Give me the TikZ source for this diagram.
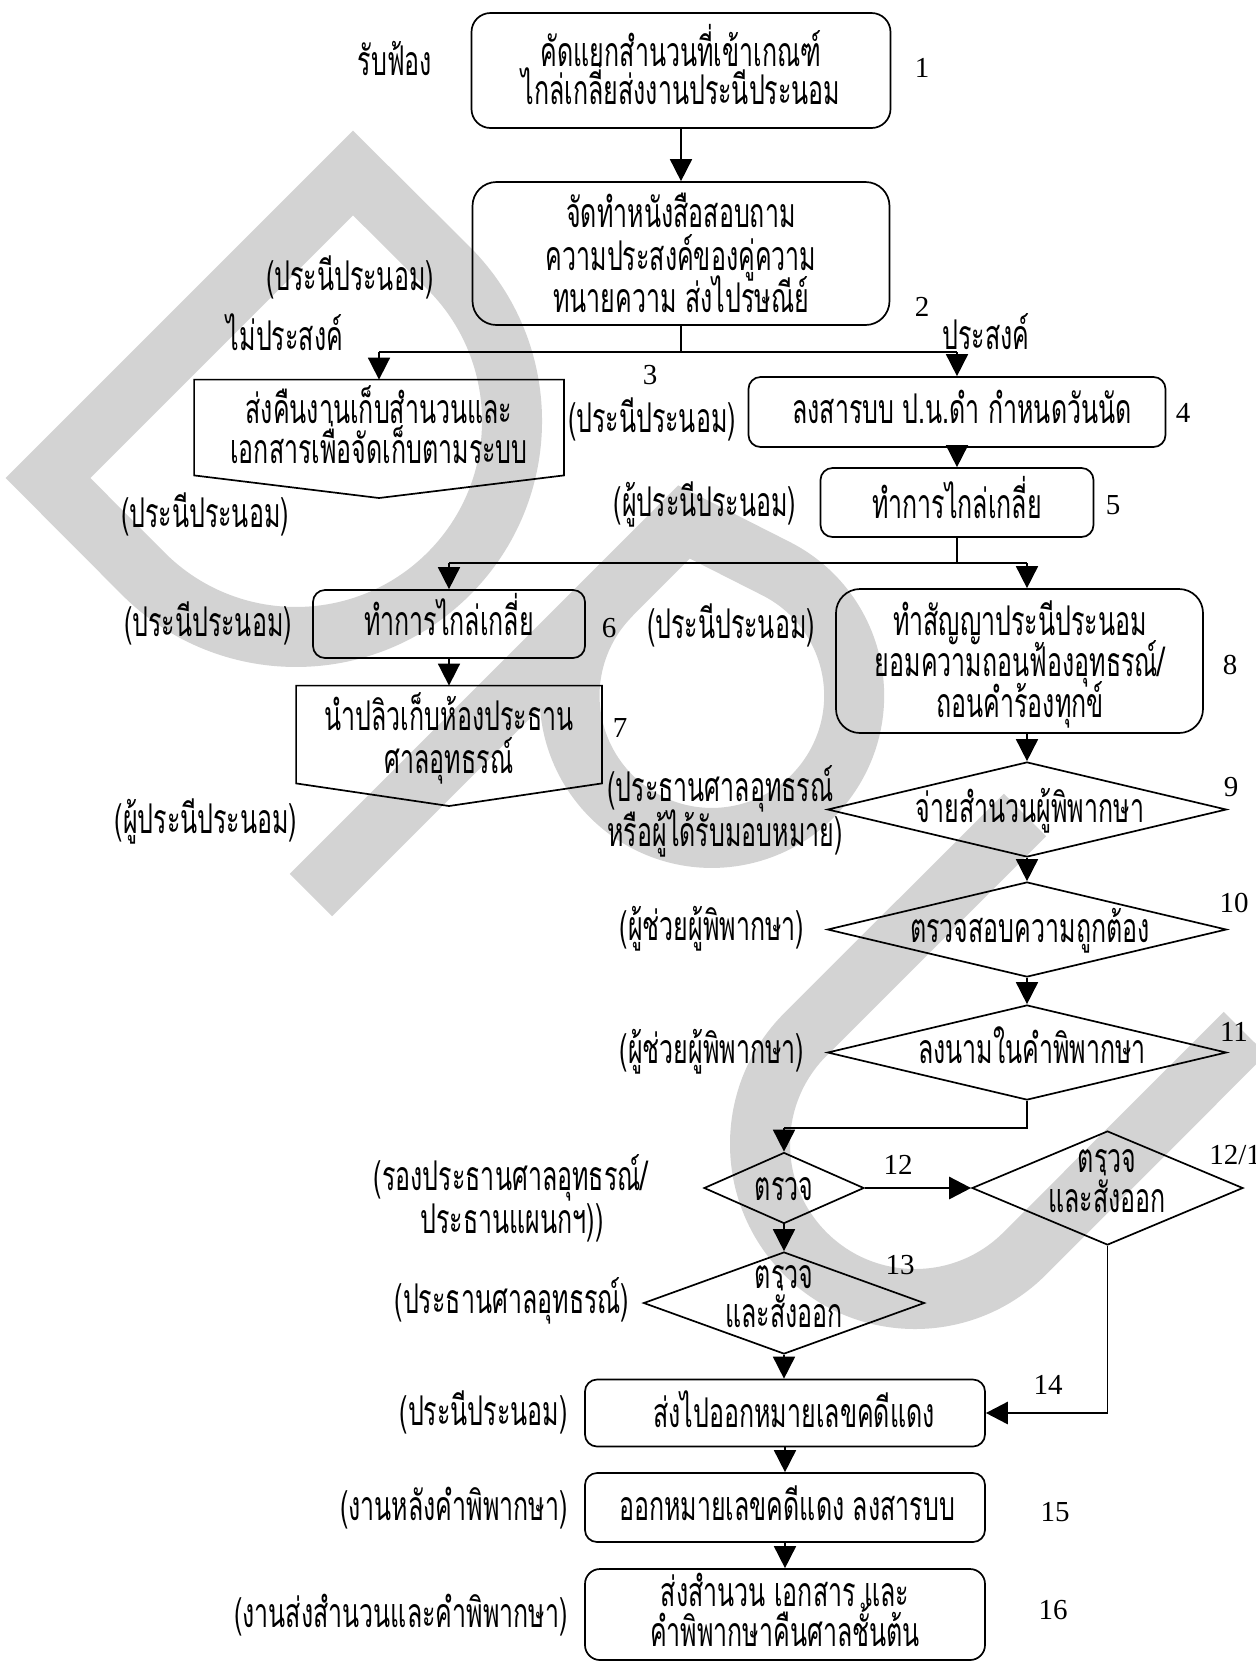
\documentclass[tikz,border=0pt]{standalone}
\usepackage{fontspec}
\setmainfont{Liberation Serif}
\newfontfamily\thaifont[Script=Thai,FakeStretch=0.61]{Loma}
\usetikzlibrary{arrows.meta,shapes.geometric}
\definecolor{wmgray}{RGB}{211,211,211}
\begin{document}
\begin{tikzpicture}[x=0.5pt,y=-0.5pt,
  tx/.style={font=\thaifont\fontsize{20.5}{22}\selectfont, inner sep=0pt, anchor=base},
  num/.style={font=\fontsize{14.5}{16}\selectfont, inner sep=0pt, anchor=base},
  box/.style={draw, line width=0.85pt, inner sep=0pt},
  dia/.style={draw, diamond, line width=0.85pt, inner sep=0pt},
  arr/.style={-{Triangle[length=11pt,width=11pt]}, line width=0.85pt},
  tarr/.style={-{Triangle[length=11pt,width=11pt]}, line width=1.4pt},
  ln/.style={line width=0.85pt},
  wm/.style={draw=wmgray, line width=30pt, line join=miter}]
\fill[white] (0,0) rectangle (1256,1662);
\useasboundingbox (0,0) rectangle (1256,1662);
% watermark (D, P, U)
\draw[wm] (353,173) -- (48,478) -- (143.3,573.7) arc[start angle=135, end angle=-45, radius=216] -- cycle;
\draw[wm] (311,895) -- (684,522) -- (776,568.6) arc[start angle=-63.2, end angle=225.1, radius=142.3];
\draw[wm] (1025,815) -- (805.4,1034.4) arc[start angle=225, end angle=45, radius=155] -- (1245,1033);
% boxes
\node[box, rounded corners=9.5pt, minimum width=209.5pt, minimum height=57.5pt] (b1) at (681,70.5) {};
\node[box, rounded corners=12pt, minimum width=208.5pt, minimum height=71.5pt] (b2) at (681,253.5) {};
\node[inner sep=0pt, minimum width=184.5pt, minimum height=47.5pt] (b3) at (379,427.5) {};
\coordinate (b3p) at (379,498);
\draw[ln, line join=miter] (b3.south west) -- (b3.north west) -- (b3.north east) -- (b3.south east) -- (b3p) -- cycle;
\node[box, rounded corners=6pt, minimum width=208.5pt, minimum height=35pt] (b4) at (957,412) {};
\node[box, rounded corners=6pt, minimum width=136.5pt, minimum height=34.5pt] (b5) at (957,502.5) {};
\node[box, rounded corners=6pt, minimum width=136pt, minimum height=34pt] (b6) at (449,624) {};
\node[box, rounded corners=12pt, minimum width=183.5pt, minimum height=72pt] (b8) at (1019.5,661) {};
\node[inner sep=0pt, minimum width=152.5pt, minimum height=48.5pt] (b7) at (449,734.5) {};
\coordinate (b7p) at (449,806);
\draw[ln, line join=miter] (b7.south west) -- (b7.north west) -- (b7.north east) -- (b7.south east) -- (b7p) -- cycle;
\node[dia, minimum width=199.5pt, minimum height=47.5pt] (d9) at (1027,809.5) {};
\node[dia, minimum width=199.5pt, minimum height=47.5pt] (d10) at (1027,929.5) {};
\node[dia, minimum width=199.5pt, minimum height=47.5pt] (d11) at (1027,1052.5) {};
\node[dia, minimum width=80pt, minimum height=35.5pt] (d12) at (784,1188) {};
\node[dia, minimum width=135.5pt, minimum height=57pt] (d121) at (1107.5,1188) {};
\node[dia, minimum width=140.5pt, minimum height=51pt] (d13) at (784,1303) {};
\node[box, rounded corners=6pt, minimum width=200pt, minimum height=33.5pt] (b14) at (785,1413) {};
\node[box, rounded corners=6pt, minimum width=200pt, minimum height=34.5pt] (b15) at (785,1507.5) {};
\node[box, rounded corners=7.5pt, minimum width=200pt, minimum height=45.5pt] (b16) at (785,1614.5) {};
% connectors
\coordinate (s1) at (681,352);
\coordinate (s1l) at (379,352);
\coordinate (s1r) at (957,352);
\coordinate (s2) at (957,563);
\coordinate (s2l) at (449,563);
\coordinate (s2r) at (1027,563);
\coordinate (s3) at (1027,1128);
\coordinate (s3l) at (784,1128);
\coordinate (s4) at (1107.5,1413);
\draw[arr] (b1) -- (b2);
\draw[line width=0.6pt] (b2.south) -- (s1);
\draw[ln] (s1l) -- (s1r);
\draw[arr] (s1l) -- (b3.north);
\draw[arr] (s1r) -- (b4.north);
\draw[arr] (b4) -- (b5);
\draw[line width=0.6pt] (b5.south) -- (s2);
\draw[ln] (s2l) -- (s2r);
\draw[arr] (s2l) -- (b6.north);
\draw[arr] (s2r) -- (s2r |- b8.north);
\draw[arr] (b6.south) -- (b7.north);
\draw[arr] (d9.north |- b8.south) -- (d9.north);
\draw[arr] (d9.south) -- (d10.north);
\draw[arr] (d10.south) -- (d11.north);
\draw[ln] (d11.south) -- (s3) -- (s3l);
\draw[arr] (s3l) -- (d12.north);
\draw[tarr] (d12.east) -- (d121.west);
\draw[ln] (d121.south) -- (s4);
\draw[tarr] (s4) -- (b14.east);
\draw[arr] (d12.south) -- (d13.north);
\draw[arr] (d13.south) -- (d13.south |- b14.north);
\draw[arr] (b14) -- (b15);
\draw[arr] (b15) -- (b16);
% texts
\node[tx] (l1) at (395,75) {รับฟ้อง};
\node[tx] (b1a) at (681,66) {คัดแยกสำนวนที่เข้าเกณฑ์};
\node[tx] (b1b) at (681,104) {ไกล่เกลี่ยส่งงานประนีประนอม};
\node[num] (n1) at (922,77) {1};
\node[tx] (b2a) at (681,227) {จัดทำหนังสือสอบถาม};
\node[tx] (b2b) at (681,270) {ความประสงค์ของคู่ความ};
\node[tx] (b2c) at (681,312) {ทนายความ ส่งไปรษณีย์};
\node[num] (n2) at (922,316) {2};
\node[tx] (l2) at (350,290) {(ประนีประนอม)};
\node[tx] (l3) at (285,350) {ไม่ประสงค์};
\node[tx] (l4) at (986,349) {ประสงค์};
\node[num] (n3) at (650,384) {3};
\node[tx] (b3a) at (379,423) {ส่งคืนงานเก็บสำนวนและ};
\node[tx] (b3b) at (379,463) {เอกสารเพื่อจัดเก็บตามระบบ};
\node[tx] (l5) at (205,527) {(ประนีประนอม)};
\node[tx] (l6) at (652,432) {(ประนีประนอม)};
\node[tx] (b4a) at (962,423) {ลงสารบบ ป.น.ดำ กำหนดวันนัด};
\node[num] (n4) at (1183,422) {4};
\node[tx] (l7) at (705,516) {(ผู้ประนีประนอม)};
\node[tx] (b5a) at (957,518) {ทำการไกล่เกลี่ย};
\node[num] (n5) at (1113,514) {5};
\node[tx] (l8) at (208,636) {(ประนีประนอม)};
\node[tx] (b6a) at (449,635) {ทำการไกล่เกลี่ย};
\node[num] (n6) at (609,637) {6};
\node[tx] (l9) at (731,638) {(ประนีประนอม)};
\node[tx] (b8a) at (1020,635) {ทำสัญญาประนีประนอม};
\node[tx] (b8b) at (1020,676) {ยอมความถอนฟ้องอุทธรณ์/};
\node[tx] (b8c) at (1020,717) {ถอนคำร้องทุกข์};
\node[num] (n8) at (1230,674) {8};
\node[tx] (b7a) at (449,730) {นำปลิวเก็บห้องประธาน};
\node[tx] (b7b) at (449,773) {ศาลอุทธรณ์};
\node[num] (n7) at (620,737) {7};
\node[tx] (l10) at (206,833) {(ผู้ประนีประนอม)};
\node[tx, anchor=base west] (l11a) at (607,801) {(ประธานศาลอุทธรณ์};
\node[tx, anchor=base west] (l11b) at (607,846) {หรือผู้ได้รับมอบหมาย)};
\node[tx] (d9a) at (1030,822) {จ่ายสำนวนผู้พิพากษา};
\node[num] (n9) at (1231,796) {9};
\node[tx] (l12) at (712,940) {(ผู้ช่วยผู้พิพากษา)};
\node[tx] (d10a) at (1030,942) {ตรวจสอบความถูกต้อง};
\node[num] (n10) at (1234,912) {10};
\node[tx] (l13) at (712,1063) {(ผู้ช่วยผู้พิพากษา)};
\node[tx] (d11a) at (1032,1063) {ลงนามในคำพิพากษา};
\node[num] (n11) at (1234,1041) {11};
\node[tx] (l14a) at (511,1190) {(รองประธานศาลอุทธรณ์/};
\node[tx] (l14b) at (512,1233) {ประธานแผนกฯ))};
\node[tx] (d12a) at (784,1200) {ตรวจ};
\node[num] (n12) at (898,1174) {12};
\node[tx] (d121a) at (1107,1172) {ตรวจ};
\node[tx] (d121b) at (1107,1212) {และสั่งออก};
\node[num, anchor=base west] (n121) at (1209,1164) {12/1};
\node[tx] (d13a) at (784,1288) {ตรวจ};
\node[tx] (d13b) at (784,1327) {และสั่งออก};
\node[num] (n13) at (900,1274) {13};
\node[tx] (l15) at (512,1313) {(ประธานศาลอุทธรณ์)};
\node[tx] (b14a) at (794,1427) {ส่งไปออกหมายเลขคดีแดง};
\node[num] (n14) at (1048,1394) {14};
\node[tx, anchor=base east] (l16) at (568,1425) {(ประนีประนอม)};
\node[tx] (b15a) at (787,1520) {ออกหมายเลขคดีแดง ลงสารบบ};
\node[num] (n15) at (1055,1521) {15};
\node[tx, anchor=base east] (l17) at (568,1520) {(งานหลังคำพิพากษา)};
\node[tx] (b16a) at (785,1606) {ส่งสำนวน เอกสาร และ};
\node[tx] (b16b) at (785,1646) {คำพิพากษาคืนศาลชั้นต้น};
\node[num] (n16) at (1053,1619) {16};
\node[tx, anchor=base east] (l18) at (568,1627) {(งานส่งสำนวนและคำพิพากษา)};
\end{tikzpicture}
\end{document}
